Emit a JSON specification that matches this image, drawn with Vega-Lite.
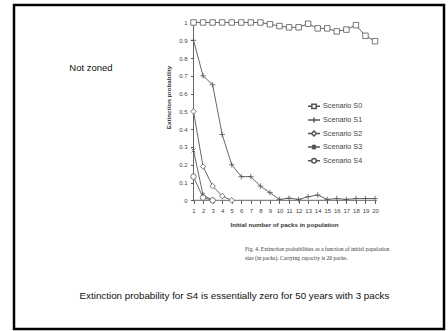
{
  "$schema": "https://vega.github.io/schema/vega-lite/v6.json",
  "width": 430,
  "height": 324,
  "autosize": "none",
  "padding": {"left": 14, "top": 5, "right": 4, "bottom": 2},
  "background": "white",
  "config": {
    "view": {"stroke": "#000000", "strokeWidth": 2.5},
    "axis": {"grid": false, "domain": false, "labelFont": "Liberation Sans", "titleFont": "Liberation Sans", "labelColor": "#444444", "titleColor": "#333333", "tickColor": "#555555", "labelFontSize": 6, "titleFontSize": 6.2}
  },
  "data": {
    "values": [
      {"scenario": "Scenario S0", "n": 1, "p": 1.0},
      {"scenario": "Scenario S0", "n": 2, "p": 1.0},
      {"scenario": "Scenario S0", "n": 3, "p": 1.0},
      {"scenario": "Scenario S0", "n": 4, "p": 1.0},
      {"scenario": "Scenario S0", "n": 5, "p": 1.0},
      {"scenario": "Scenario S0", "n": 6, "p": 1.0},
      {"scenario": "Scenario S0", "n": 7, "p": 1.0},
      {"scenario": "Scenario S0", "n": 8, "p": 1.0},
      {"scenario": "Scenario S0", "n": 9, "p": 0.99},
      {"scenario": "Scenario S0", "n": 10, "p": 0.98},
      {"scenario": "Scenario S0", "n": 11, "p": 0.973},
      {"scenario": "Scenario S0", "n": 12, "p": 0.973},
      {"scenario": "Scenario S0", "n": 13, "p": 0.993},
      {"scenario": "Scenario S0", "n": 14, "p": 0.967},
      {"scenario": "Scenario S0", "n": 15, "p": 0.967},
      {"scenario": "Scenario S0", "n": 16, "p": 0.95},
      {"scenario": "Scenario S0", "n": 17, "p": 0.96},
      {"scenario": "Scenario S0", "n": 18, "p": 0.985},
      {"scenario": "Scenario S0", "n": 19, "p": 0.925},
      {"scenario": "Scenario S0", "n": 20, "p": 0.895},
      {"scenario": "Scenario S1", "n": 1, "p": 0.9},
      {"scenario": "Scenario S1", "n": 2, "p": 0.7},
      {"scenario": "Scenario S1", "n": 3, "p": 0.65},
      {"scenario": "Scenario S1", "n": 4, "p": 0.37},
      {"scenario": "Scenario S1", "n": 5, "p": 0.2},
      {"scenario": "Scenario S1", "n": 6, "p": 0.133},
      {"scenario": "Scenario S1", "n": 7, "p": 0.133},
      {"scenario": "Scenario S1", "n": 8, "p": 0.08},
      {"scenario": "Scenario S1", "n": 9, "p": 0.043},
      {"scenario": "Scenario S1", "n": 10, "p": 0.005},
      {"scenario": "Scenario S1", "n": 11, "p": 0.012},
      {"scenario": "Scenario S1", "n": 12, "p": 0.005},
      {"scenario": "Scenario S1", "n": 13, "p": 0.02},
      {"scenario": "Scenario S1", "n": 14, "p": 0.03},
      {"scenario": "Scenario S1", "n": 15, "p": 0.005},
      {"scenario": "Scenario S1", "n": 16, "p": 0.01},
      {"scenario": "Scenario S1", "n": 17, "p": 0.005},
      {"scenario": "Scenario S1", "n": 18, "p": 0.01},
      {"scenario": "Scenario S1", "n": 19, "p": 0.01},
      {"scenario": "Scenario S1", "n": 20, "p": 0.01},
      {"scenario": "Scenario S2", "n": 1, "p": 0.5},
      {"scenario": "Scenario S2", "n": 2, "p": 0.19},
      {"scenario": "Scenario S2", "n": 3, "p": 0.08},
      {"scenario": "Scenario S2", "n": 4, "p": 0.024},
      {"scenario": "Scenario S2", "n": 5, "p": 0.0},
      {"scenario": "Scenario S3", "n": 1, "p": 0.28},
      {"scenario": "Scenario S3", "n": 2, "p": 0.03},
      {"scenario": "Scenario S3", "n": 3, "p": 0.0},
      {"scenario": "Scenario S4", "n": 1, "p": 0.133},
      {"scenario": "Scenario S4", "n": 2, "p": 0.015},
      {"scenario": "Scenario S4", "n": 3, "p": 0.0}
    ]
  },
  "resolve": {"scale": {"shape": "independent"}},
  "layer": [
    {
      "data": {"values": [{}]},
      "mark": {"type": "rule", "color": "#555555", "strokeWidth": 0.9},
      "encoding": {
        "x": {"datum": 1, "type": "quantitative", "scale": {"domain": [-17.79, 27.22], "nice": false, "zero": false}},
        "x2": {"datum": 20.2},
        "y": {"datum": 0, "type": "quantitative", "scale": {"domain": [-0.7238, 1.0984], "nice": false, "zero": false}}
      }
    },
    {
      "data": {"values": [{}]},
      "mark": {"type": "rule", "color": "#555555", "strokeWidth": 0.9},
      "encoding": {
        "x": {"datum": 1, "type": "quantitative", "scale": {"domain": [-17.79, 27.22], "nice": false, "zero": false}},
        "y": {"datum": 0, "type": "quantitative", "scale": {"domain": [-0.7238, 1.0984], "nice": false, "zero": false}},
        "y2": {"datum": 1}
      }
    },
    {
      "mark": {"type": "line", "stroke": "#555555", "strokeWidth": 0.9},
      "encoding": {
        "x": {
          "field": "n", "type": "quantitative",
          "scale": {"domain": [-17.79, 27.22], "nice": false, "zero": false},
          "axis": {
            "orient": "bottom", "offset": -128.7,
            "values": [1, 2, 3, 4, 5, 6, 7, 8, 9, 10, 11, 12, 13, 14, 15, 16, 17, 18, 19, 20],
            "tickCount": 40,
            "labelOverlap": false, "labelFlush": false, "tickSize": 3, "labelPadding": 4,
            "title": "Initial number of packs in population", "titleFontWeight": "bold",
            "titleX": 270, "titleY": 23.7, "titleAlign": "center", "titleBaseline": "middle"
          }
        },
        "y": {
          "field": "p", "type": "quantitative",
          "scale": {"domain": [-0.7238, 1.0984], "nice": false, "zero": false},
          "axis": {
            "orient": "left", "offset": -179.5,
            "values": [0, 0.1, 0.2, 0.3, 0.4, 0.5, 0.6, 0.7, 0.8, 0.9, 1],
            "tickCount": 40,
            "format": "~g", "labelOverlap": false, "labelFlush": false, "tickSize": 3, "labelPadding": 3.5,
            "title": "Extinction probability", "titleFontWeight": "bold",
            "titleX": -25.5, "titleY": 92, "titleAngle": -90, "titleAlign": "center", "titleBaseline": "middle"
          }
        },
        "detail": {"field": "scenario", "type": "nominal"}
      }
    },
    {
      "mark": {"type": "point", "filled": true, "fill": "white", "stroke": "#555555", "strokeWidth": 0.8, "size": 30, "opacity": 1},
      "encoding": {
        "x": {"field": "n", "type": "quantitative", "scale": {"domain": [-17.79, 27.22], "nice": false, "zero": false}},
        "y": {"field": "p", "type": "quantitative", "scale": {"domain": [-0.7238, 1.0984], "nice": false, "zero": false}},
        "shape": {
          "field": "scenario", "type": "nominal",
          "scale": {
            "domain": ["Scenario S0", "Scenario S1", "Scenario S2", "Scenario S3", "Scenario S4"],
            "range": ["square", "M0,-1V1M-1,0H1", "diamond", "M-0.7,-0.7L0.7,0.7M-0.7,0.7L0.7,-0.7M0,-1V1", "circle"]
          },
          "legend": null
        }
      }
    },
    {
      "transform": [{"filter": "datum.n > 100"}],
      "mark": {"type": "point", "filled": true, "fill": "white", "stroke": "#555555", "strokeWidth": 0.8, "size": 30, "opacity": 1},
      "encoding": {
        "x": {"field": "n", "type": "quantitative", "scale": {"domain": [-17.79, 27.22], "nice": false, "zero": false}},
        "y": {"field": "p", "type": "quantitative", "scale": {"domain": [-0.7238, 1.0984], "nice": false, "zero": false}},
        "shape": {
          "field": "scenario", "type": "nominal",
          "scale": {
            "domain": ["Scenario S0", "Scenario S1", "Scenario S2", "Scenario S3", "Scenario S4"],
            "range": [
              "M-1,0H-0.38M0.38,0H1M-0.36,-0.36H0.36V0.36H-0.36Z",
              "M-1,0H1M0,-0.42V0.42",
              "M-1,0H-0.42M0.42,0H1M0,-0.42L0.42,0L0,0.42L-0.42,0Z",
              "M-1,0H1M-0.32,-0.32L0.32,0.32M-0.32,0.32L0.32,-0.32M0,-0.42V0.42",
              "M-1,0H-0.38M0.38,0A0.38,0.38,0,1,1,-0.38,0A0.38,0.38,0,1,1,0.38,0M0.38,0H1"
            ]
          },
          "legend": {
            "title": null, "orient": "none", "legendX": 293, "legendY": 94.3, "padding": 0,
            "symbolSize": 144, "labelFontSize": 7.2, "labelFont": "Liberation Sans", "labelColor": "#444444",
            "labelOffset": 2, "rowPadding": 0.6
          }
        }
      }
    },
    {
      "data": {"values": [{}]},
      "mark": {"type": "text", "font": "Liberation Sans", "fontSize": 9.5, "color": "#111111", "align": "left", "baseline": "middle"},
      "encoding": {
        "x": {"datum": -12.0, "type": "quantitative", "scale": {"domain": [-17.79, 27.22], "nice": false, "zero": false}},
        "y": {"datum": 0.742, "type": "quantitative", "scale": {"domain": [-0.7238, 1.0984], "nice": false, "zero": false}},
        "text": {"value": "Not zoned"}
      }
    },
    {
      "data": {"values": [{}]},
      "mark": {"type": "text", "font": "Liberation Serif", "fontSize": 5.6, "color": "#3a3a3a", "align": "left", "baseline": "middle", "lineHeight": 9.5},
      "encoding": {
        "x": {"datum": 6.39, "type": "quantitative", "scale": {"domain": [-17.79, 27.22], "nice": false, "zero": false}},
        "y": {"datum": -0.2711, "type": "quantitative", "scale": {"domain": [-0.7238, 1.0984], "nice": false, "zero": false}},
        "text": {"value": ["Fig. 4. Extinction probabilities as a function of initial population", "size (in packs). Carrying capacity is 20 packs."]}
      }
    },
    {
      "data": {"values": [{}]},
      "mark": {"type": "text", "font": "Liberation Sans", "fontSize": 9.8, "color": "#111111", "align": "center", "baseline": "middle"},
      "encoding": {
        "x": {"datum": 5.29, "type": "quantitative", "scale": {"domain": [-17.79, 27.22], "nice": false, "zero": false}},
        "y": {"datum": -0.538, "type": "quantitative", "scale": {"domain": [-0.7238, 1.0984], "nice": false, "zero": false}},
        "text": {"value": "Extinction probability for S4 is essentially zero for 50 years with 3 packs"}
      }
    }
  ]
}
